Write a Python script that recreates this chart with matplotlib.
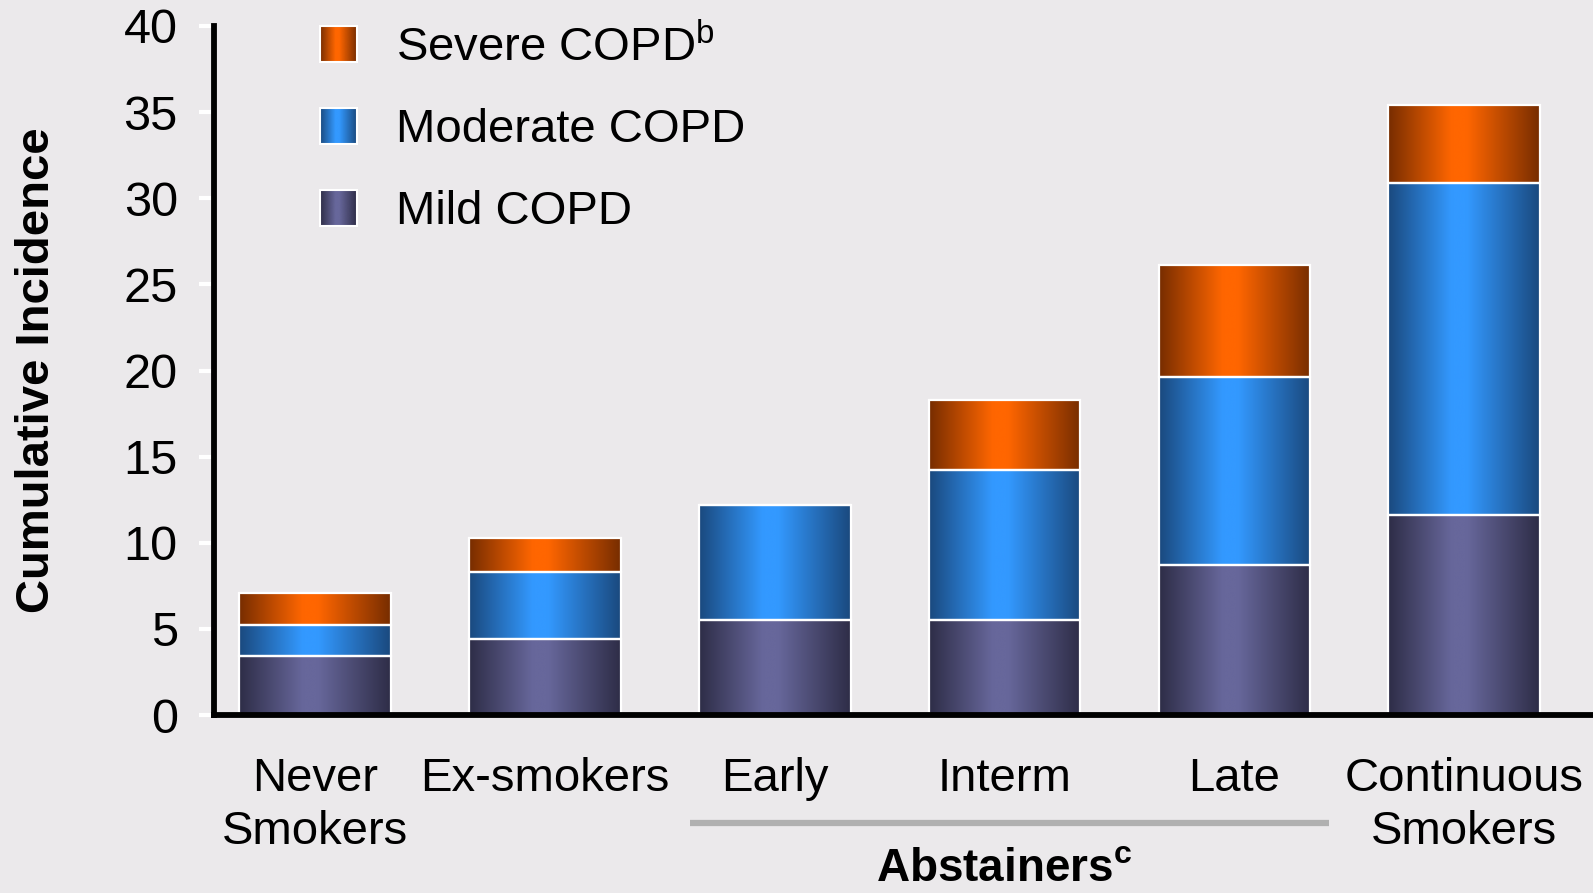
import numpy as np
import matplotlib
matplotlib.use('Agg')
import matplotlib.pyplot as plt
from matplotlib.colors import LinearSegmentedColormap
from matplotlib.legend_handler import HandlerBase
from matplotlib.image import BboxImage
from matplotlib.transforms import Bbox, TransformedBbox, blended_transform_factory
from matplotlib.patches import Rectangle

plt.rcParams['font.family'] = ['Liberation Sans', 'DejaVu Sans']
plt.rcParams['mathtext.fontset'] = 'custom'
plt.rcParams['mathtext.rm'] = 'Liberation Sans'
plt.rcParams['mathtext.bf'] = 'Liberation Sans:bold'

# === Data ===
categories = ['Never\nSmokers', 'Ex-smokers', 'Early', 'Interm', 'Late', 'Continuous\nSmokers']
mild = [3.4, 4.4, 5.5, 5.5, 8.7, 11.6]
moderate = [1.85, 3.9, 6.7, 8.7, 10.9, 19.3]
severe = [1.85, 2.0, 0.0, 4.1, 6.5, 4.5]

series_labels = ['Mild COPD', 'Moderate COPD', r'Severe COPD$^{\mathrm{b}}$']
yticks = [0, 5, 10, 15, 20, 25, 30, 35, 40]

# === Colours (dark edge / light centre) ===
grad_colors = {
    'mild': ('#2e2d47', '#67679b'),
    'moderate': ('#1a497e', '#3399ff'),
    'severe': ('#772d00', '#ff6600'),
}


def make_cmap(name):
    dark, light = grad_colors[name]
    return LinearSegmentedColormap.from_list(
        name, [(0.0, dark), (0.42, light), (0.52, light), (1.0, dark)])


cmaps = {k: make_cmap(k) for k in grad_colors}
grad = np.linspace(0, 1, 256).reshape(1, -1)


class GradientHandler(HandlerBase):
    def __init__(self, cmap):
        super().__init__()
        self.cmap = cmap

    def create_artists(self, legend, orig_handle, xdescent, ydescent,
                       width, height, fontsize, trans):
        bb = Bbox.from_bounds(-xdescent, -ydescent, width, height)
        img = BboxImage(TransformedBbox(bb, trans), cmap=self.cmap,
                        interpolation='bicubic')
        img.set_data(grad)
        border = Rectangle((-xdescent, -ydescent), width, height, fc='none',
                           ec='white', lw=1.5, transform=trans)
        return [img, border]


fig = plt.figure(figsize=(15.93, 8.93), dpi=100)
fig.patch.set_facecolor('#ebe9eb')
ax = fig.add_axes([0.1343, 0.1993, 0.8657, 0.7716])
ax.set_facecolor('none')

x = np.arange(len(categories))
width = 0.66
bottom = np.zeros(len(categories))
handles = []
for key, vals in zip(['mild', 'moderate', 'severe'], [mild, moderate, severe]):
    bars = ax.bar(x, vals, width, bottom=bottom, color='none',
                  edgecolor='white', linewidth=1.6, zorder=3)
    for rect in bars:
        if rect.get_height() <= 0:
            continue
        x0, y0 = rect.get_x(), rect.get_y()
        ax.imshow(grad, cmap=cmaps[key], aspect='auto', interpolation='bicubic',
                  extent=[x0, x0 + rect.get_width(), y0, y0 + rect.get_height()],
                  zorder=2)
    handles.append(bars)
    bottom += np.array(vals)

ax.set_xlim(-0.44, 5.56)
ax.set_ylim(0, 40)

# axes styling
for s in ['top', 'right']:
    ax.spines[s].set_visible(False)
for s in ['left', 'bottom']:
    ax.spines[s].set_linewidth(4.2)
    ax.spines[s].set_color('black')
    ax.spines[s].set_zorder(4)

ax.set_yticks(yticks)
ax.tick_params(axis='y', direction='out', length=11, width=3, color='white',
               labelsize=35, pad=15)
ax.set_xticks(x)
ax.set_xticklabels(categories, fontsize=34, linespacing=1.28)
ax.tick_params(axis='x', length=0, pad=30)

ax.set_ylabel('Cumulative Incidence', fontsize=34, fontweight='bold')
ax.yaxis.set_label_coords(-0.112, 0.5)

# abstainers bracket
tr = blended_transform_factory(ax.transData, ax.transAxes)
ax.plot([1.63, 4.41], [-0.157, -0.157], color='#b0b0b0', lw=4.5,
        transform=tr, clip_on=False, solid_capstyle='butt')
ax.text(3.0, -0.224, r'Abstainers$^{\mathbf{c}}$', transform=tr, fontsize=33,
        fontweight='bold', ha='center', va='center')

# legend (reverse order: severe on top)
leg_handles = handles[::-1]
leg_labels = series_labels[::-1]
hmap = {h: GradientHandler(cmaps[k]) for h, k in
        zip(leg_handles, ['severe', 'moderate', 'mild'])}
leg = ax.legend(leg_handles, leg_labels, handler_map=hmap, loc='upper left',
                bbox_to_anchor=(0.077, 1.002), frameon=False, fontsize=34,
                handlelength=0.78, handleheight=0.78, handletextpad=0.83,
                labelspacing=0.80, borderpad=0, borderaxespad=0)

fig.savefig('out.png', dpi=100, facecolor=fig.get_facecolor())
